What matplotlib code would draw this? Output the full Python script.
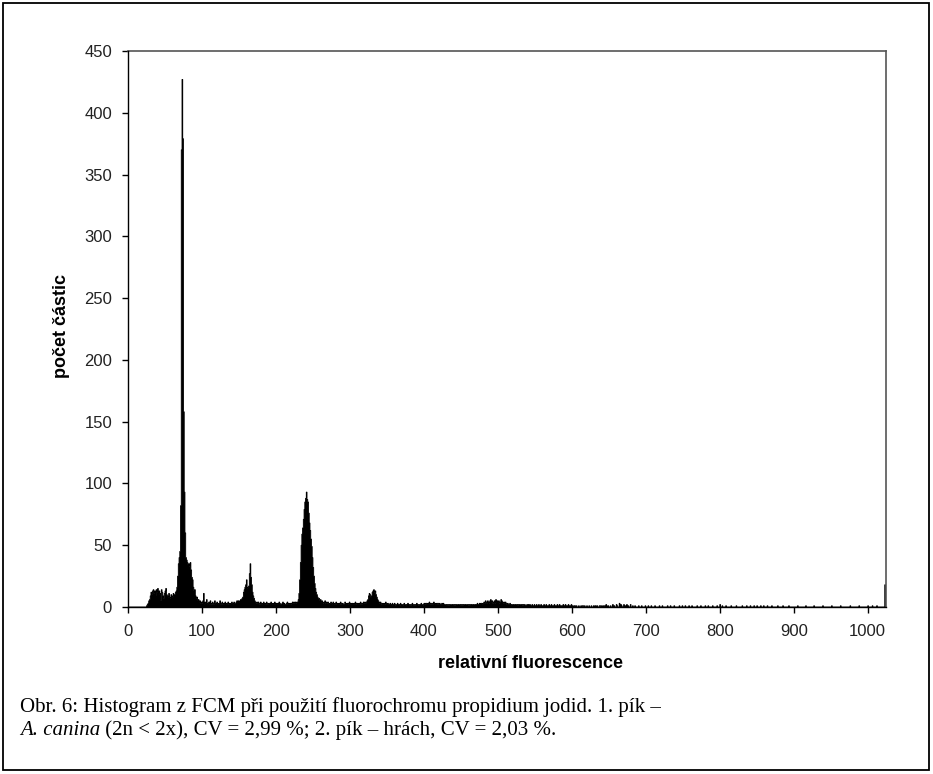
import numpy as np
import matplotlib
matplotlib.use("Agg")
import matplotlib.pyplot as plt
from matplotlib.patches import Rectangle

# counts per channel 0-649
counts_low = [
    0,0,0,0,0, 0,0,0,0,0, 0,0,0,0,0, 0,0,0,0,0, 0,0,0,0,0,
    1,2,3,5,6, 9,12,10,13,14, 11,13,9,14,12, 15,10,13,11,5, 14,12,9,7,11,
    13,15,10,9,8, 11,8,7,10,9, 8,11,9,10,12, 13,16,25,35,40, 45,82,370,427,379,
    158,93,60,40,38, 36,34,35,33,36, 30,24,22,16,13, 14,9,7,8,5, 6,4,5,3,4,
    3,5,11,2,4, 3,6,2,3,4, 2,5,3,2,4, 3,2,5,3,2, 4,3,2,3,5,
    2,3,4,2,3, 2,4,3,2,3, 4,2,3,2,3, 4,3,2,4,3, 3,4,5,4,5,
    4,5,6,5,7, 8,12,14,16,18, 22,15,16,17,27, 35,24,18,12,9, 7,5,4,3,4,
    3,4,3,2,4, 3,2,3,4,2, 3,2,4,3,2, 3,3,2,4,3, 2,3,2,4,2,
    3,2,3,2,4, 3,2,2,3,4, 2,3,2,2,3, 4,2,3,2,3, 2,3,4,3,4,
    3,4,3,4,4, 6,11,22,36,50, 59,64,71,79,85, 88,93,87,85,76, 68,62,55,49,40,
    32,25,19,15,12, 10,8,7,7,5, 6,4,5,4,3, 4,5,3,4,3, 4,3,2,3,4,
    3,2,4,3,2, 3,4,2,3,2, 3,2,4,3,2, 3,2,2,4,3, 2,3,2,3,4,
    2,3,2,3,2, 3,2,4,3,2, 3,2,3,2,4, 3,2,3,4,3, 4,3,4,5,6,
    9,11,10,8,9, 12,13,14,12,13, 10,8,6,5,4, 3,4,3,2,3, 2,3,2,4,3,
    2,3,2,2,3, 2,1,3,2,2, 3,2,1,2,3, 2,2,1,3,2, 2,1,2,3,2,
    1,2,2,3,1, 2,2,1,2,3, 2,1,2,2,1, 3,2,2,1,2, 2,3,2,1,2,
    3,2,3,3,2, 3,2,4,3,2, 3,3,2,4,3, 2,3,2,3,3, 2,3,2,2,3,
    2,3,2,2,1, 2,2,1,2,2, 1,2,1,2,2, 1,2,2,1,2, 1,2,2,1,2,
    2,1,2,2,1, 2,2,1,2,1, 2,2,1,2,2, 1,2,2,1,2, 2,2,3,2,2,
    3,2,3,3,2, 3,4,3,5,4, 3,5,4,3,5, 6,4,5,3,4, 5,3,6,4,5,
    4,5,3,4,6, 5,4,3,4,3, 4,3,2,3,2, 2,3,2,2,1, 2,2,1,2,2,
    1,2,2,1,2, 1,2,1,2,2, 1,2,1,1,2, 1,2,1,2,1, 1,2,1,1,2,
    1,1,2,1,1, 2,1,1,2,1, 1,1,2,1,1, 2,1,1,1,2, 1,1,2,1,1,
    1,2,1,1,1, 2,1,1,2,1, 1,1,1,2,1, 1,2,1,1,1, 2,1,1,1,2,
    1,1,0,1,1, 0,1,0,0,1, 0,0,1,0,1, 1,0,1,0,0, 1,0,0,1,0,
    0,1,0,0,1, 0,1,1,0,1, 0,0,1,1,0, 1,0,1,0,1, 1,2,1,0,1,
]

# sparse tail, channels 650-1023
tail_channels = [652, 655, 657, 660, 661, 664, 666, 667, 670, 672, 674, 676, 679,
                 682, 685, 690, 694, 699, 703, 707, 712, 718, 722, 729, 733, 738,
                 745, 749, 753, 758, 762, 769, 774, 780, 784, 790, 796, 800, 803,
                 808, 815, 822, 830, 836, 841, 846, 850, 855, 859, 864, 870, 878,
                 885, 893, 905, 916, 927, 939, 951, 963, 976, 988, 1000, 1006,
                 1012, 1023]
tail_counts = [1, 2, 1, 2, 1, 3, 2, 1, 2, 1, 2, 1, 2,
               1, 1, 1, 1, 1, 1, 1, 1, 1, 1, 1, 1, 1,
               1, 1, 1, 1, 1, 1, 1, 1, 1, 1, 1, 2, 1,
               1, 1, 1, 1, 1, 1, 1, 1, 1, 1, 1, 1, 1,
               1, 1, 1, 1, 1, 1, 1, 1, 1, 1, 1, 1,
               1, 18]

n_channels = 1024
xticks = list(range(0, 1001, 100))
yticks = list(range(0, 451, 50))

counts = np.zeros(n_channels)
counts[:len(counts_low)] = counts_low
counts[tail_channels] = tail_counts

W, H = 933, 774
fig = plt.figure(figsize=(W / 100, H / 100), dpi=100)
ax = fig.add_axes([128 / W, 1 - 607 / H, (885.5 - 128) / W, (607 - 51) / H])

ax.stairs(counts, np.arange(n_channels + 1), fill=True, facecolor="black",
          edgecolor="black", linewidth=0.6)

ax.set_xlim(0, n_channels)
ax.set_ylim(0, 450)
ax.set_xticks(xticks)
ax.set_yticks(yticks)
for lab in ax.get_xticklabels() + ax.get_yticklabels():
    lab.set_family("Liberation Sans")
    lab.set_fontsize(12)
    lab.set_color("#222222")
ax.tick_params(direction="out", length=4.5, width=1, color="black")
ax.tick_params(axis="x", pad=8)
ax.tick_params(axis="y", pad=7)

for s in ["left", "bottom"]:
    ax.spines[s].set_color("black")
    ax.spines[s].set_linewidth(1)
    ax.spines[s].set_zorder(3)
for s in ["top", "right"]:
    ax.spines[s].set_color("#555555")
    ax.spines[s].set_linewidth(1.2)

fig.text(531 / W, 1 - 663 / H, "relativní fluorescence", ha="center", va="center",
         family="Liberation Sans", fontweight="bold", fontsize=13)
fig.text(62 / W, 1 - 326 / H, "počet částic", ha="center", va="center", rotation=90,
         family="Liberation Sans", fontweight="bold", fontsize=13)

# caption
cap = dict(family="Liberation Serif", fontsize=15, color="black")
fig.text(20 / W, 1 - 712 / H,
         "Obr. 6: Histogram z FCM při použití fluorochromu propidium jodid. 1. pík –",
         ha="left", va="baseline", **cap)
parts = [("A. canina", "italic"),
         (" (2n < 2x), CV = 2,99 %; 2. pík – hrách, CV = 2,03 %.", "normal")]
prev = fig.text(20 / W, 1 - 735 / H, parts[0][0], ha="left", va="baseline",
                style=parts[0][1], **cap)
# chain the pieces by annotating relative to the previous piece
for txt, st in parts[1:]:
    prev = ax.annotate(txt, xy=(1, 0), xycoords=prev, ha="left", va="bottom",
                       style=st, annotation_clip=False, **cap)

fig.patches.append(Rectangle((2.5 / W, 1 - 770 / H), (929 - 2.5) / W, (770 - 2.5) / H,
                             transform=fig.transFigure, fill=False,
                             edgecolor="black", linewidth=1.3))

fig.savefig("out.png", dpi=100)
